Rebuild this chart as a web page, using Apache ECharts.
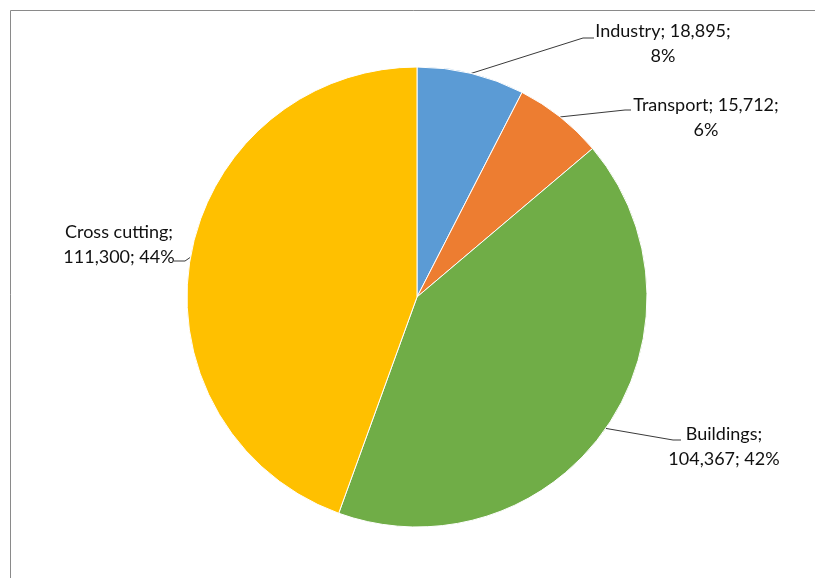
<!DOCTYPE html>
<html>
<head>
<meta charset="utf-8">
<script src="https://cdn.jsdelivr.net/npm/echarts@6/dist/echarts.min.js"></script>
<style>
  html, body { margin: 0; padding: 0; background: #fff; }
  #chart { width: 815px; height: 578px; }
</style>
</head>
<body>
<div id="chart"></div>
<script>
// Funding by sector
const sectors = ['Industry', 'Transport', 'Buildings', 'Cross cutting'];
const amounts = [18895, 15712, 104367, 111300];
const sectorColors = ['#5B9BD5', '#ED7D31', '#70AD47', '#FFC000'];

// Callout placement: text centre, bend of the leader line and its end next to the text.
const callouts = {
  'Industry':      { cx: 663, cy: 44,  bend: [583, 38],  end: [594, 38],  breakAfterName: false },
  'Transport':     { cx: 706, cy: 118, bend: [625, 110], end: [631, 110], breakAfterName: false },
  'Buildings':     { cx: 724, cy: 447, bend: [673, 440], end: [681, 440], breakAfterName: true },
  'Cross cutting': { cx: 119, cy: 245, bend: [185, 261], end: [174, 261], breakAfterName: true }
};

const fmt = n => n.toLocaleString('en-US');

const chart = echarts.init(document.getElementById('chart'), null, { renderer: 'canvas' });

chart.setOption({
  animation: false,
  backgroundColor: '#fff',
  color: sectorColors,
  graphic: [{
    type: 'rect',
    silent: true,
    shape: { x: 10.5, y: 10.5, width: 1200, height: 1200 },
    style: { fill: 'none', stroke: '#8a8a8a', lineWidth: 1 }
  }],
  series: [{
    type: 'pie',
    center: [417, 297],
    radius: 230,
    startAngle: 90,
    clockwise: true,
    avoidLabelOverlap: false,
    percentPrecision: 0,
    itemStyle: { borderColor: '#ffffff', borderWidth: 1 },
    label: {
      show: true,
      position: 'outside',
      fontFamily: 'Lato, "Open Sans", sans-serif',
      fontSize: 18,
      lineHeight: 25,
      color: '#111',
      align: 'center',
      formatter: p => {
        const c = callouts[p.name];
        return c.breakAfterName
          ? p.name + ';\n' + fmt(p.value) + '; ' + p.percent + '%'
          : p.name + '; ' + fmt(p.value) + ';\n' + p.percent + '%';
      }
    },
    labelLine: {
      show: true,
      length: 20,
      length2: 10,
      smooth: false,
      lineStyle: { color: '#3a3a3a', width: 1 }
    },
    labelLayout: params => {
      const c = callouts[sectors[params.dataIndex]];
      const start = params.labelLinePoints ? params.labelLinePoints[0] : c.bend;
      return {
        x: c.cx,
        y: c.cy,
        align: 'center',
        verticalAlign: 'middle',
        labelLinePoints: [start, c.bend, c.end]
      };
    },
    data: sectors.map((name, i) => ({ name, value: amounts[i] }))
  }]
});
</script>
</body>
</html>
